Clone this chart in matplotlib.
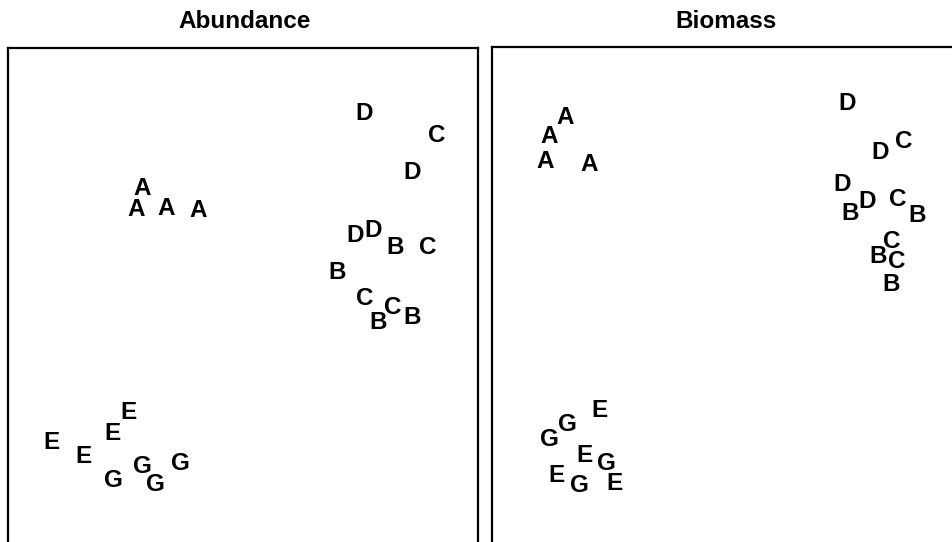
import numpy as np
import matplotlib
matplotlib.use('Agg')
import matplotlib.pyplot as plt

plt.rcParams['font.family'] = ['Liberation Sans', 'DejaVu Sans']

# ordination scores (sample group labels)
abund_lab = ['D', 'C', 'D', 'A', 'A', 'A', 'A', 'D', 'D', 'B', 'C', 'B',
             'C', 'B', 'C', 'B', 'E', 'E', 'E', 'E', 'G', 'G', 'G', 'G']
abund_x = [1.21, 1.94, 1.69, -1.01, -1.07, -0.77, -0.45, 1.12, 1.30, 1.52, 1.85, 0.94,
           1.22, 1.35, 1.50, 1.69, -1.15, -1.31, -1.92, -1.60, -1.30, -1.01, -0.88, -0.63]
abund_y = [1.77, 1.55, 1.18, 1.02, 0.81, 0.82, 0.80, 0.55, 0.60, 0.43, 0.43, 0.18,
           -0.08, -0.32, -0.17, -0.27, -1.22, -1.43, -1.52, -1.67, -1.91, -1.77, -1.95, -1.74]

biom_lab = ['A', 'A', 'A', 'A', 'D', 'D', 'C', 'D', 'D', 'B', 'C', 'B',
            'C', 'B', 'C', 'B', 'E', 'G', 'G', 'E', 'G', 'E', 'G', 'E']
biom_x = [-1.55, -1.71, -1.75, -1.31, 1.27, 1.60, 1.84, 1.22, 1.47, 1.30, 1.78, 1.97,
          1.72, 1.58, 1.77, 1.71, -1.21, -1.53, -1.71, -1.36, -1.14, -1.64, -1.41, -1.06]
biom_y = [1.72, 1.53, 1.28, 1.25, 1.86, 1.37, 1.48, 1.05, 0.88, 0.76, 0.90, 0.74,
          0.48, 0.33, 0.28, 0.05, -1.21, -1.35, -1.50, -1.66, -1.74, -1.86, -1.96, -1.94]

fig = plt.figure(figsize=(9.53, 5.42), dpi=100)

# panels run off the bottom (and right) of the page, as in the scan
ax1 = fig.add_axes([0.0084, -0.0332, 0.4932, 0.9446])
ax2 = fig.add_axes([0.5163, -0.0332, 0.4910, 0.9465])

panels = [(ax1, abund_lab, abund_x, abund_y, (-2.35, 2.35), (-2.70, 2.42)),
          (ax2, biom_lab, biom_x, biom_y, (-2.28, 2.40), (-2.70, 2.43))]

for ax, lab, xs, ys, xl, yl in panels:
    for s, x, y in zip(lab, xs, ys):
        ax.text(x, y, s, ha='center', va='center', fontsize=17.5,
                fontweight='bold', color='black')
    ax.set_xlim(*xl)
    ax.set_ylim(*yl)
    ax.set_xticks([])
    ax.set_yticks([])
    for sp in ax.spines.values():
        sp.set_linewidth(1.6)
        sp.set_color('black')

fig.text(245 / 953, 1 - 28.5 / 542, 'Abundance', ha='center', va='baseline',
         fontsize=17.5, fontweight='bold')
fig.text(726 / 953, 1 - 28.5 / 542, 'Biomass', ha='center', va='baseline',
         fontsize=17.5, fontweight='bold')

fig.savefig('out.png', dpi=100)
